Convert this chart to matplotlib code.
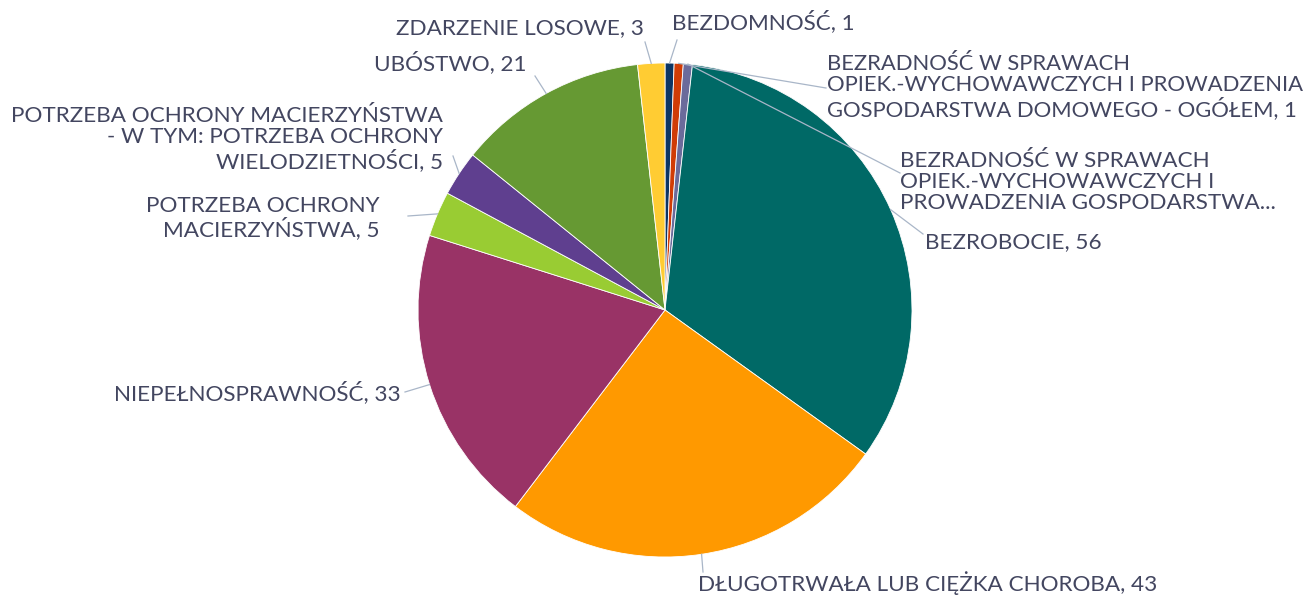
import numpy as np
import matplotlib
matplotlib.use("Agg")
import matplotlib.pyplot as plt

categories = [
    "BEZDOMNOŚĆ",
    "BEZRADNOŚĆ W SPRAWACH OPIEK.-WYCHOWAWCZYCH I PROWADZENIA GOSPODARSTWA DOMOWEGO - OGÓŁEM",
    "BEZRADNOŚĆ W SPRAWACH OPIEK.-WYCHOWAWCZYCH I PROWADZENIA GOSPODARSTWA...",
    "BEZROBOCIE",
    "DŁUGOTRWAŁA LUB CIĘŻKA CHOROBA",
    "NIEPEŁNOSPRAWNOŚĆ",
    "POTRZEBA OCHRONY MACIERZYŃSTWA",
    "POTRZEBA OCHRONY MACIERZYŃSTWA - W TYM: POTRZEBA OCHRONY WIELODZIETNOŚCI",
    "UBÓSTWO",
    "ZDARZENIE LOSOWE",
]
values = [1, 1, 1, 56, 43, 33, 5, 5, 21, 3]
display_labels = [
    "BEZDOMNOŚĆ, 1",
    "BEZRADNOŚĆ W SPRAWACH\nOPIEK.-WYCHOWAWCZYCH I PROWADZENIA\nGOSPODARSTWA DOMOWEGO - OGÓŁEM, 1",
    "BEZRADNOŚĆ W SPRAWACH\nOPIEK.-WYCHOWAWCZYCH I\nPROWADZENIA GOSPODARSTWA...",
    "BEZROBOCIE, 56",
    "DŁUGOTRWAŁA LUB CIĘŻKA CHOROBA, 43",
    "NIEPEŁNOSPRAWNOŚĆ, 33",
    "POTRZEBA OCHRONY\nMACIERZYŃSTWA, 5",
    "POTRZEBA OCHRONY MACIERZYŃSTWA\n- W TYM: POTRZEBA OCHRONY\nWIELODZIETNOŚCI, 5",
    "UBÓSTWO, 21",
    "ZDARZENIE LOSOWE, 3",
]
colors = ["#0b3564", "#d03c06", "#6b6b9b", "#006966", "#ff9900",
          "#993366", "#99cc33", "#5f3f8f", "#669933", "#ffcc33"]

# layout (pixel coords from top-left): text anchor x, y, ha, leader end x, y
W, H = 1308, 595
label_pos = [
    (672, 22, "left", 677, 40),
    (827, 87, "left", 826, 88),
    (900, 182, "left", 900, 173),
    (925, 242, "left", 923, 234),
    (698, 583, "left", 703, 572),
    (401, 393, "right", 405, 392),
    (380, 218, "right", 408, 216),
    (443, 139, "right", 453, 156),
    (527, 63, "right", 535, 76),
    (644, 28, "right", 645, 42),
]

plt.rcParams['font.family'] = ['Lato', 'DejaVu Sans']
fig = plt.figure(figsize=(W / 100, H / 100), dpi=100)
ax = fig.add_axes([0, 0, 1, 1])

cx, cy, r = 665, H - 310, 247
wedges, _ = ax.pie(values, colors=colors, startangle=90, counterclock=False,
                   center=(cx, cy), radius=r, frame=True,
                   wedgeprops=dict(linewidth=0.6, edgecolor="white"))
ax.set_xlim(0, W)
ax.set_ylim(0, H)
ax.axis("off")

text_color = "#434660"
line_color = "#a9b6c8"
renderer = fig.canvas.get_renderer()
for w, lab, (tx, ty, ha, lx, ly) in zip(wedges, display_labels, label_pos):
    mid = np.deg2rad((w.theta1 + w.theta2) / 2)
    sx, sy = cx + r * np.cos(mid), cy + r * np.sin(mid)
    ax.plot([sx, lx], [sy, H - ly], color=line_color, lw=0.9, zorder=1)
    t = ax.text(tx, H - ty, lab, ha=ha, va="center", multialignment=ha,
                fontsize=16.2, color=text_color, linespacing=1.07)
    fs = 16.2
    while t.get_window_extent(renderer).x1 > W - 4 and fs > 10:
        fs -= 0.1
        t.set_fontsize(fs)

fig.savefig("out.png", dpi=100, facecolor="white")
